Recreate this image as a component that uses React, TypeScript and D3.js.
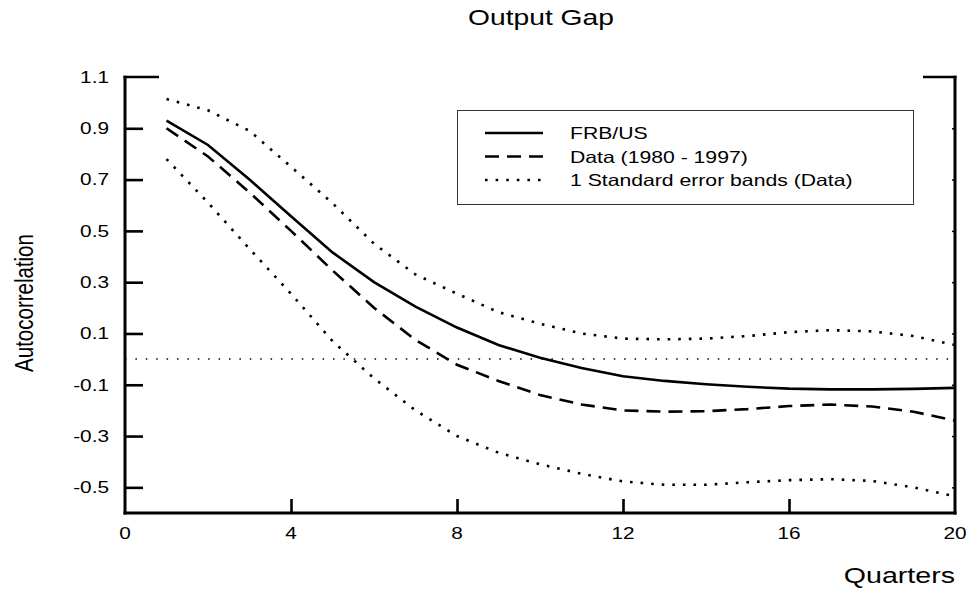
import React, { useEffect, useRef } from "react";
import * as d3 from "d3";

// autocorrelations of the output gap, quarters 1..20
const quarters = [1, 2, 3, 4, 5, 6, 7, 8, 9, 10, 11, 12, 13, 14, 15, 16, 17, 18, 19, 20];
const frbus = [0.93, 0.835, 0.7, 0.557, 0.416, 0.3, 0.205, 0.123, 0.055, 0.005, -0.035, -0.067, -0.085, -0.098, -0.108, -0.115, -0.118, -0.118, -0.116, -0.112];
const dataAc = [0.9, 0.79, 0.65, 0.5, 0.346, 0.2, 0.075, -0.022, -0.085, -0.14, -0.177, -0.2, -0.205, -0.203, -0.195, -0.183, -0.177, -0.185, -0.205, -0.24];
const upperBand = [1.014, 0.97, 0.89, 0.75, 0.608, 0.45, 0.33, 0.255, 0.183, 0.138, 0.1, 0.08, 0.077, 0.08, 0.09, 0.105, 0.113, 0.108, 0.09, 0.055];
const lowerBand = [0.78, 0.61, 0.43, 0.255, 0.07, -0.075, -0.2, -0.3, -0.365, -0.41, -0.447, -0.477, -0.49, -0.49, -0.48, -0.472, -0.468, -0.475, -0.5, -0.535];

const yTicks = [-0.5, -0.3, -0.1, 0.1, 0.3, 0.5, 0.7, 0.9, 1.1];
const xTicks = [0, 4, 8, 12, 16, 20];
const legendLabels = ["FRB/US", "Data (1980 - 1997)", "1 Standard error bands (Data)"];

const FONT = "'Liberation Sans', Arial, Helvetica, sans-serif";
const SX = 1.3; // text in the original is stretched horizontally

export default function App() {
  const svgRef = useRef<SVGSVGElement>(null);

  useEffect(() => {
    const width = 974;
    const height = 592;
    const marginLeft = 125;
    const marginRight = 19;
    const marginTop = 77;
    const marginBottom = 79;

    const svg = d3.select(svgRef.current);
    svg.selectAll("*").remove();
    svg.attr("width", width).attr("height", height);

    const x = d3.scaleLinear().domain([0, 20]).range([marginLeft, width - marginRight]);
    const y = d3.scaleLinear().domain([-0.6, 1.1]).range([height - marginBottom, marginTop]);

    const stretchedText = (tx: number, ty: number, str: string, size: number, anchor: string) =>
      svg
        .append("text")
        .attr("transform", `translate(${tx},${ty}) scale(${SX},1)`)
        .attr("text-anchor", anchor)
        .attr("font-family", FONT)
        .attr("font-size", size)
        .attr("fill", "#000")
        .text(str);

    // zero line
    svg
      .append("line")
      .attr("x1", x(0))
      .attr("x2", x(20))
      .attr("y1", y(0))
      .attr("y2", y(0))
      .attr("stroke", "#000")
      .attr("stroke-width", 1.5)
      .attr("stroke-dasharray", "1.5,8.9");

    // series
    const line = (vals: number[]) =>
      d3
        .line<number>()
        .x((d, i) => x(quarters[i]))
        .y((d) => y(d))
        .curve(d3.curveLinear)(vals);

    const series = [
      { vals: frbus, dash: null },
      { vals: dataAc, dash: "14,8" },
      { vals: upperBand, dash: "2.6,8" },
      { vals: lowerBand, dash: "2.6,8" },
    ];
    series.forEach((s) => {
      svg
        .append("path")
        .attr("d", line(s.vals))
        .attr("fill", "none")
        .attr("stroke", "#000")
        .attr("stroke-width", 2.6)
        .attr("stroke-dasharray", s.dash);
    });

    // left axis
    const yInner = yTicks.filter((t) => t < 1.05);
    svg
      .append("g")
      .attr("transform", `translate(${x(0)},0)`)
      .call(d3.axisRight(y).tickValues(yInner).tickSizeInner(18).tickSizeOuter(0).tickFormat(() => ""))
      .call((g) => g.selectAll("line").attr("stroke-width", 2.6))
      .call((g) => g.select(".domain").attr("stroke-width", 3).attr("d", `M0,${y(-0.6) + 1.5}V${y(1.1) - 1.2}`));

    // right axis
    svg
      .append("g")
      .attr("transform", `translate(${x(20)},0)`)
      .call(d3.axisLeft(y).tickValues(yInner).tickSizeInner(3).tickSizeOuter(0).tickFormat(() => ""))
      .call((g) => g.selectAll("line").attr("stroke-width", 1.5))
      .call((g) => g.select(".domain").attr("stroke-width", 3).attr("d", `M0,${y(-0.6) + 1.5}V${y(1.1) - 1.2}`));

    // top caps
    svg.append("line").attr("x1", x(0) - 1.5).attr("x2", x(0) + 34).attr("y1", y(1.1)).attr("y2", y(1.1)).attr("stroke", "#000").attr("stroke-width", 2.6);
    svg.append("line").attr("x1", x(20) - 32).attr("x2", x(20) + 1.5).attr("y1", y(1.1)).attr("y2", y(1.1)).attr("stroke", "#000").attr("stroke-width", 2.6);

    // bottom axis
    svg
      .append("g")
      .attr("transform", `translate(0,${y(-0.6)})`)
      .call(d3.axisTop(x).tickValues(xTicks.slice(1, -1)).tickSizeInner(14).tickSizeOuter(0).tickFormat(() => ""))
      .call((g) => g.selectAll("line").attr("stroke-width", 2.6))
      .call((g) => g.select(".domain").attr("stroke-width", 3).attr("d", `M${x(0) - 1.5},0H${x(20) + 1.5}`));

    // tick labels
    yTicks.forEach((t) => stretchedText(109, y(t) + 5.8, t.toFixed(1), 16, "end"));
    xTicks.forEach((t) => stretchedText(x(t), 539, String(t), 16, "middle"));

    // titles
    stretchedText(541, 25, "Output Gap", 21.7, "middle");
    stretchedText(955, 583, "Quarters", 22, "end");
    svg
      .append("text")
      .attr("transform", `translate(32.5,303) scale(${SX},1) rotate(-90)`)
      .attr("text-anchor", "middle")
      .attr("font-family", FONT)
      .attr("font-size", 20.5)
      .text("Autocorrelation");

    // legend
    svg
      .append("rect")
      .attr("x", 457.5)
      .attr("y", 110.5)
      .attr("width", 456)
      .attr("height", 94)
      .attr("fill", "#fff")
      .attr("stroke", "#333")
      .attr("stroke-width", 1);

    const legendDash = [null, "14,8", "2.6,8"];
    legendLabels.forEach((label, i) => {
      const ly = 133 + i * 23.5;
      svg
        .append("line")
        .attr("x1", 485)
        .attr("x2", 543)
        .attr("y1", ly)
        .attr("y2", ly)
        .attr("stroke", "#000")
        .attr("stroke-width", 2.6)
        .attr("stroke-dasharray", legendDash[i]);
      stretchedText(570, ly + 6, label, 16.3, "start");
    });
  }, []);

  return (
    <div style={{ position: "absolute", left: 0, top: 0, background: "#fff" }}>
      <svg ref={svgRef} style={{ display: "block" }}></svg>
    </div>
  );
}
